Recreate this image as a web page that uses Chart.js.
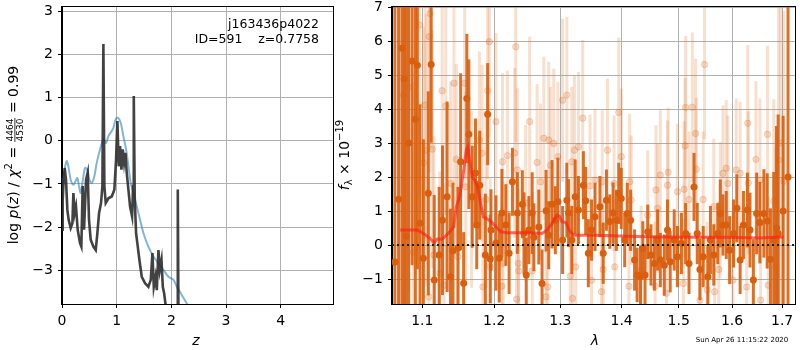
<!DOCTYPE html>
<html>
<head>
<meta charset="utf-8">
<script src="https://cdn.jsdelivr.net/npm/chart.js@4.4.0/dist/chart.umd.min.js"></script>
<style>
html, body { margin: 0; padding: 0; background: #fff; }
#wrap { position: relative; width: 800px; height: 350px; overflow: hidden; }
canvas { position: absolute; top: 0; }
</style>
</head>
<body>
<div id="wrap">
  <canvas id="pz" width="334" height="350" style="left:0px"></canvas>
  <canvas id="spec" width="466" height="350" style="left:334px"></canvas>
</div>
<script>
// ---- left panel: log p(z) ----
var zTicks = [0, 1, 2, 3, 4];
var logpTicks = [-3, -2, -1, 0, 1, 2, 3];

var zBlack = [0, 0.012, 0.024, 0.049, 0.073, 0.098, 0.122, 0.159, 0.19, 0.208,
  0.232, 0.256, 0.287, 0.33, 0.354, 0.378, 0.403, 0.44, 0.47, 0.494,
  0.525, 0.574, 0.617, 0.647, 0.678, 0.714, 0.739, 0.757, 0.775, 0.80,
  0.849, 0.91, 0.958, 0.989, 1.013, 1.038, 1.062, 1.087, 1.111, 1.136,
  1.16, 1.184, 1.215, 1.245, 1.282, 1.30, 1.313, 1.331, 1.355, 1.386,
  1.416, 1.459, 1.52, 1.58, 1.624, 1.654, 1.679, 1.71, 1.734, 1.764,
  1.789, 1.82, 1.844, 1.868, 1.90, 1.95, 2.05, 2.105, 2.118, 2.131,
  2.16, 2.3, 2.6];
var logpBlack = [-2.06, -1.4, -1.05, -0.63, -0.90, -1.60, -1.83, -2.02, -1.91, -1.21,
  -1.67, -1.52, -2.06, -2.37, -2.45, -1.05, -2.06, -0.90, -0.74, -1.83,
  -2.29, -2.45, -2.53, -2.14, -1.67, -1.44, -1.05, 2.24, -1.05, -1.44,
  -1.33, -1.29, -1.13, -0.43, 0.46, -0.59, -0.12, -0.67, -0.20, -0.51,
  -0.28, -0.74, -1.13, -1.52, -1.75, -1.05, 1.04, -1.36, -2.14, -2.45,
  -2.76, -3.15, -3.30, -3.38, -3.22, -2.60, -3.38, -3.15, -3.46, -2.53,
  -2.99, -2.76, -3.38, -3.53, -3.85, -4.2, -4.3, -4.1, -1.13, -4.2,
  -4.5, -5.0, -5.5];

var zBlue = [0, 0.037, 0.085, 0.116, 0.159, 0.208, 0.244, 0.28, 0.311, 0.342,
  0.378, 0.421, 0.464, 0.50, 0.543, 0.592, 0.635, 0.696, 0.757, 0.806,
  0.849, 0.891, 0.94, 0.989, 1.03, 1.074, 1.123, 1.172, 1.215, 1.258,
  1.306, 1.367, 1.428, 1.49, 1.58, 1.673, 1.764, 1.856, 1.948, 2.04,
  2.10, 2.19, 2.283, 2.375, 2.6];
var logpBlue = [-1.2, -0.74, -0.47, -0.59, -0.90, -1.02, -0.94, -0.86, -1.05, -1.21,
  -0.94, -0.63, -0.67, -0.90, -0.98, -0.82, -0.51, -0.20, 0.03, -0.05,
  0.11, 0.19, 0.30, 0.52, 0.53, 0.42, 0.11, -0.20, -0.59, -0.98,
  -1.21, -1.52, -1.83, -2.14, -2.45, -2.68, -2.84, -2.99, -3.15, -3.22,
  -3.38, -3.57, -3.77, -3.96, -4.4];

// ---- right panel: spectrum ----
var lamTicks = [1.1, 1.2, 1.3, 1.4, 1.5, 1.6, 1.7];
var fluxTicks = [-1, 0, 1, 2, 3, 4, 5, 6, 7];

var darkLam = [1.0641, 1.0689, 1.0732, 1.0762, 1.0788, 1.0820, 1.0865, 1.0908, 1.0934, 1.0970,
  1.1014, 1.1080, 1.1119, 1.1160, 1.1227, 1.1272, 1.1335, 1.1381, 1.1416, 1.1485,
  1.1522, 1.1564, 1.1609, 1.1637, 1.1685, 1.1731, 1.1749, 1.1791, 1.1872, 1.1905,
  1.1943, 1.1953, 1.2025, 1.2073, 1.2112, 1.2170, 1.2218, 1.2267, 1.2341, 1.2415,
  1.2440, 1.2474, 1.2514, 1.2564, 1.2589, 1.2665, 1.2715, 1.2777, 1.2818, 1.2869,
  1.2921, 1.2961, 1.3035, 1.3102, 1.3129, 1.3181, 1.3235, 1.3287, 1.3367, 1.3404,
  1.3447, 1.3500, 1.3556, 1.3637, 1.3691, 1.3745, 1.3801, 1.3856, 1.3911, 1.3951,
  1.3994, 1.4052, 1.4095, 1.4153, 1.4221, 1.4265, 1.4323, 1.4363, 1.4402, 1.4449,
  1.4506, 1.4566, 1.4623, 1.4671, 1.4741, 1.4799, 1.4847, 1.4919, 1.4978, 1.5050,
  1.5127, 1.5189, 1.5281, 1.5341, 1.5391, 1.5452, 1.5539, 1.5588, 1.5651, 1.5726,
  1.5775, 1.5826, 1.5889, 1.5954, 1.6031, 1.6094, 1.6158, 1.6223, 1.6301, 1.6352,
  1.6419, 1.6484, 1.6549, 1.6629, 1.6696, 1.6762, 1.6829, 1.6883, 1.6918, 1.7020,
  1.7122];
var darkFlux = [-0.5, 1.35, 5.79, 4.88, 0.26, 3.0, 5.41, 3.70, 5.29, 0.64,
  -0.39, 1.52, 5.31, -1.03, -0.29, 0.73, 1.42, -0.93, -0.17, -0.09,
  2.45, -1.12, 4.31, 3.26, 1.42, 2.12, 0.59, 1.76, -0.29, 3.85,
  -0.41, 0.44, 0.06, -0.39, 0.94, 0.59, -0.24, 1.86, 0.94, 1.20,
  0.35, -0.88, 0.44, 0.94, 0.23, 0.53, -1.13, 1.01, 0.29, 1.20,
  0.73, 1.27, 0.15, 1.32, 0.94, 0.15, 1.42, 1.03, 1.76, 1.30,
  -0.24, 0.44, 0.83, 1.13, -0.24, 1.32, 0.69, 0.94, 0.73, 1.52,
  1.37, 0.15, 0.93, 0.73, -0.44, -0.88, -0.93, -0.10, -0.88, 0.39,
  -0.29, -0.54, 0.15, -0.44, -0.59, 0.44, -0.49, 0.15, -0.34, 0.05,
  0.34, -0.54, 1.71, 0.34, -0.72, -0.34, -0.93, 0.15, -0.29, 0.34,
  0.93, 0.59, 0.59, -0.15, 0.34, 1.08, -0.44, 0.59, 1.03, 0.44,
  -1.03, 0.93, 0.66, 0.93, 0.71, -0.42, 0.15, 0.50, 0.34, 1.00,
  2.00];
var darkErr = [10, 10, 10, 10, 10, 8, 6, 5.5, 6, 3.5,
  3.5, 3, 2.3, 2.5, 2, 2.2, 2.8, 2, 2, 1.8,
  2.6, 1.5, 1.9, 2.2, 1.5, 1.6, 1.3, 1.6, 1.8, 1.5,
  1.3, 1.2, 1.4, 1.3, 1.3, 1.2, 1.2, 1.0, 1.2, 1.0,
  1.2, 1.1, 1.0, 1.2, 1.0, 1.1, 1.0, 1.2, 1.0, 1.3,
  1.0, 1.3, 1.0, 1.1, 1.0, 1.0, 1.1, 1.0, 1.0, 1.0,
  1.0, 0.9, 1.0, 0.9, 0.9, 0.9, 0.8, 0.9, 0.9, 0.9,
  0.9, 0.8, 0.9, 0.9, 0.9, 0.8, 0.9, 0.8, 0.9, 0.8,
  0.9, 0.8, 0.9, 0.8, 0.9, 0.9, 0.9, 0.9, 0.9, 0.9,
  0.9, 0.9, 1.0, 0.9, 0.9, 0.9, 0.9, 1.0, 0.9, 0.9,
  1.0, 0.9, 1.0, 1.0, 1.0, 1.0, 1.0, 1.0, 1.1, 1.1,
  1.2, 1.2, 1.2, 1.3, 1.4, 1.5, 2.0, 3.0, 3.5, 2.8,
  12];

var lightLam = [1.0753, 1.0818, 1.0882, 1.0961, 1.1014, 1.1036, 1.1055, 1.1086, 1.1093, 1.1102,
  1.1133, 1.1156, 1.1236, 1.1267, 1.1294, 1.1317, 1.1385, 1.1430, 1.1463, 1.1485,
  1.1578, 1.1592, 1.1675, 1.1787, 1.1825, 1.1837, 1.1882, 1.1905, 1.1929, 1.1941,
  1.2025, 1.2112, 1.2121, 1.2131, 1.2193, 1.2300, 1.2317, 1.2329, 1.2341, 1.2355,
  1.2362, 1.2465, 1.2525, 1.2564, 1.2639, 1.2691, 1.2742, 1.2777, 1.2803, 1.2818,
  1.2844, 1.2895, 1.2961, 1.3035, 1.3102, 1.3156, 1.3181, 1.3192, 1.3223, 1.3243,
  1.3287, 1.3356, 1.3475, 1.3500, 1.3556, 1.3663, 1.3675, 1.3691, 1.3762, 1.3873,
  1.3884, 1.3951, 1.3994, 1.4124, 1.4136, 1.4163, 1.4334, 1.4449, 1.4579, 1.4593,
  1.4623, 1.4671, 1.4781, 1.4799, 1.4811, 1.4978, 1.5086, 1.5099, 1.5117, 1.5127,
  1.5189, 1.5250, 1.5310, 1.5323, 1.5391, 1.5452, 1.5476, 1.5526, 1.5651, 1.5666,
  1.5745, 1.5775, 1.5826, 1.5889, 1.5921, 1.6018, 1.6081, 1.6158, 1.6287, 1.6307,
  1.6320, 1.6470, 1.6549, 1.6563, 1.6702, 1.6716, 1.6829, 1.6869, 1.6927, 1.6968,
  1.7032];
var lightFlux = [4.41, 4.64, -0.21, 6.47, 2.42, 4.12, 2.79, -1.52, 6.13, 6.81,
  2.82, -0.29, -0.83, 4.54, -1.18, 4.09, 1.81, 4.76, 2.52, -0.34,
  4.76, 1.71, 1.35, 3.09, 2.70, -1.23, 1.34, 4.54, 5.98, -0.64,
  3.63, -1.21, 2.45, -0.54, 2.63, 2.71, 5.83, -1.59, 2.21, -0.54,
  -0.76, 1.23, 3.63, -0.76, 2.43, 1.86, 3.14, -1.52, -1.23, 3.09,
  2.35, 2.99, 2.60, 4.26, 4.41, -0.91, 2.45, -1.57, 2.79, -0.64,
  2.89, 3.73, 1.74, -1.03, 1.91, -1.37, 1.86, -0.72, 2.79, 1.81,
  -0.64, 3.90, 2.60, -1.21, 1.86, 1.32, -0.74, 0.88, -1.21, 1.62,
  1.08, 2.06, -1.42, 1.76, 2.14, 1.57, -1.13, 1.64, 2.92, 4.05,
  1.34, 4.05, 3.28, 2.23, -1.62, 1.34, 5.31, -1.32, 1.13, -1.37,
  -0.72, 1.03, 2.11, 2.26, 1.81, -1.03, 2.21, 2.11, -1.23, 3.58,
  1.83, 2.52, 1.91, -1.62, 3.26, -1.18, 1.29, -0.64, 2.5, 3.0,
  1.88];
var lightErr = [7, 6, 5, 5, 4, 4, 4, 3.5, 4, 4,
  3.5, 3.5, 3, 3.2, 3, 3.2, 3, 3, 2.8, 2.8,
  2.8, 2.8, 2.6, 2.6, 2.6, 2.6, 2.6, 2.6, 2.8, 2.6,
  2.6, 2.4, 2.6, 2.4, 2.5, 2.5, 2.8, 2.4, 2.4, 2.4,
  2.4, 2.3, 2.5, 2.3, 2.3, 2.3, 2.4, 2.2, 2.2, 2.3,
  2.3, 2.2, 2.2, 2.4, 2.3, 2.1, 2.2, 2.1, 2.2, 2.1,
  2.2, 2.3, 2.1, 2.0, 2.1, 2.0, 2.1, 2.0, 2.1, 2.0,
  2.0, 2.2, 2.0, 1.9, 2.0, 1.9, 1.9, 1.9, 1.9, 1.9,
  1.9, 1.9, 1.9, 1.9, 1.9, 2.0, 1.9, 2.0, 2.0, 2.1,
  2.0, 2.2, 2.2, 2.1, 2.0, 2.0, 2.2, 2.0, 2.0, 2.0,
  2.0, 2.0, 2.0, 2.0, 2.0, 2.0, 2.1, 2.1, 2.1, 2.3,
  2.1, 2.3, 2.4, 2.4, 2.6, 2.6, 3, 3.5, 6, 6,
  5];

var lamModel = [1.071, 1.0934, 1.1014, 1.1102, 1.1156, 1.1200, 1.1259, 1.1303, 1.1371, 1.1426,
  1.1463, 1.1508, 1.1545, 1.1578, 1.1601, 1.1623, 1.1647, 1.1685, 1.1717, 1.1763,
  1.1811, 1.1843, 1.1882, 1.1953, 1.2025, 1.2097, 1.2170, 1.2514, 1.2715, 1.2792,
  1.2869, 1.2946, 1.2983, 1.3024, 1.3087, 1.3140, 1.3209, 1.3556, 1.4107, 1.4677,
  1.5281, 1.5902, 1.6549, 1.6815, 1.7032];
var fluxModel = [0.44, 0.44, 0.34, 0.20, 0.07, 0.18, 0.17, 0.24, 0.39, 0.54,
  1.13, 1.42, 1.91, 2.40, 2.79, 2.89, 2.50, 2.01, 1.91, 1.71,
  1.13, 0.83, 0.79, 0.69, 0.54, 0.39, 0.36, 0.36, 0.34, 0.44,
  0.64, 0.88, 0.85, 0.69, 0.66, 0.44, 0.29, 0.29, 0.26, 0.24,
  0.23, 0.23, 0.21, 0.23, 0.24];

Chart.defaults.font.family = 'DejaVu Sans';
Chart.defaults.animation = false;

function pts(xs, ys) {
  return xs.map(function (x, i) { return { x: x, y: ys[i] }; });
}
function minus(s) { return String(s).replace('-', '\u2212'); }

function axis(type, min, max, ticks, size, fmt) {
  var isY = size.w !== undefined;
  return {
    type: type, min: min, max: max,
    afterBuildTicks: function (s) { s.ticks = ticks.map(function (v) { return { value: v }; }); },
    afterFit: function (s) {
      if (isY) s.width = size.w; else s.height = size.h;
      s.paddingTop = 0; s.paddingBottom = 0; s.paddingLeft = 0; s.paddingRight = 0;
    },
    grid: { color: '#b0b0b0', lineWidth: 1, tickColor: '#000', tickLength: 4, tickWidth: 1 },
    border: { color: '#000', width: 1 },
    ticks: {
      color: '#000', font: { size: 14 }, padding: 5,
      autoSkip: false, maxRotation: 0,
      callback: function (v) { return fmt(v); }
    }
  };
}

// error bars drawn through the chart scales, just before their dataset
var errPlugin = {
  id: 'errbars',
  beforeDatasetDraw: function (chart, args) {
    var ds = chart.data.datasets[args.index];
    if (!ds.err) return;
    var ctx = chart.ctx, xs = chart.scales.x, ys = chart.scales.y, a = chart.chartArea;
    ctx.save();
    ctx.beginPath();
    ctx.rect(a.left, a.top, a.right - a.left, a.bottom - a.top);
    ctx.clip();
    ctx.strokeStyle = ds.errColor;
    ctx.lineWidth = ds.errWidth;
    ds.data.forEach(function (p, i) {
      var x = xs.getPixelForValue(p.x);
      ctx.beginPath();
      ctx.moveTo(x, ys.getPixelForValue(p.y - ds.err[i]));
      ctx.lineTo(x, ys.getPixelForValue(p.y + ds.err[i]));
      ctx.stroke();
    });
    ctx.restore();
  }
};

var framePlugin = {
  id: 'frame',
  afterDatasetsDraw: function (chart) {
    var a = chart.chartArea, ctx = chart.ctx;
    ctx.save();
    ctx.strokeStyle = '#000';
    ctx.lineWidth = 1;
    ctx.strokeRect(Math.round(a.left) - 0.5, Math.round(a.top) - 0.5,
      Math.round(a.right - a.left) + 1, Math.round(a.bottom - a.top) + 1);
    ctx.restore();
  }
};

// text made of pieces (italic letters, super/subscripts, a small fraction)
function drawRich(ctx, segs, cx, cy, rotate) {
  ctx.save();
  ctx.translate(cx, cy);
  if (rotate) ctx.rotate(-Math.PI / 2);
  ctx.fillStyle = '#000';
  ctx.textBaseline = 'alphabetic';
  var total = 0;
  var w = segs.map(function (s) {
    ctx.font = s.font;
    var ww = s.frac
      ? Math.max(ctx.measureText(s.frac[0]).width, ctx.measureText(s.frac[1]).width) + 2
      : ctx.measureText(s.t).width;
    total += ww;
    return ww;
  });
  var x = -total / 2;
  segs.forEach(function (s, i) {
    ctx.font = s.font;
    if (s.frac) {
      ctx.textAlign = 'center';
      ctx.fillText(s.frac[0], x + w[i] / 2, s.dy[0]);
      ctx.fillText(s.frac[1], x + w[i] / 2, s.dy[1]);
      ctx.fillRect(x + 0.5, s.bar, w[i] - 1, 0.8);
    } else {
      ctx.textAlign = 'left';
      ctx.fillText(s.t, x, s.dy || 0);
    }
    x += w[i];
  });
  ctx.restore();
}

var N = '14px DejaVu Sans', I = 'italic 14px DejaVu Sans', S = '10px DejaVu Sans';

var leftText = {
  id: 'leftText',
  afterDraw: function (chart) {
    var ctx = chart.ctx;
    drawRich(ctx, [
      { t: 'log ', font: N }, { t: 'p', font: I }, { t: '(', font: N }, { t: 'z', font: I },
      { t: ') / ', font: N }, { t: '\u03c7', font: I }, { t: '2', font: S, dy: -6 },
      { t: ' = ', font: N },
      { frac: ['4464', '4530'], font: '9px DejaVu Sans', dy: [-5, 5], bar: -3.5 },
      { t: ' = 0.99', font: N }
    ], 18, 155, true);
    drawRich(ctx, [{ t: 'z', font: I }], 196, 345, false);
    ctx.save();
    ctx.fillStyle = '#000';
    ctx.font = '12.5px DejaVu Sans';
    ctx.textAlign = 'right';
    ctx.textBaseline = 'alphabetic';
    ctx.fillText('j163436p4022', 319, 28);
    ctx.fillText('ID=591    z=0.7758', 319, 43);
    ctx.restore();
  }
};

var rightText = {
  id: 'rightText',
  afterDraw: function (chart) {
    var ctx = chart.ctx;
    drawRich(ctx, [
      { t: 'f', font: I }, { t: '\u03bb', font: S, dy: 3 },
      { t: ' \u00d7 10', font: N }, { t: '\u221219', font: S, dy: -6 }
    ], 15, 155, true);
    drawRich(ctx, [{ t: '\u03bb', font: I }], 261, 345, false);
    ctx.save();
    ctx.fillStyle = '#000';
    ctx.font = '7px DejaVu Sans';
    ctx.textAlign = 'center';
    ctx.textBaseline = 'middle';
    ctx.fillText('Sun Apr 26 11:15:22 2020', 408, 340);
    ctx.restore();
  }
};

new Chart(document.getElementById('pz'), {
  type: 'scatter',
  data: {
    datasets: [
      {
        data: pts(zBlack, logpBlack), showLine: true, pointRadius: 0,
        borderColor: 'rgba(45,45,45,0.9)', borderWidth: 2.6, tension: 0, order: 1
      },
      {
        data: pts(zBlue, logpBlue), showLine: true, pointRadius: 0,
        borderColor: 'rgba(31,119,180,0.55)', borderWidth: 2, tension: 0.3, order: 2
      }
    ]
  },
  options: {
    responsive: false, devicePixelRatio: 1, events: [],
    layout: { padding: { left: 0, right: 1, top: 7, bottom: 0 } },
    plugins: { legend: { display: false }, tooltip: { enabled: false } },
    scales: {
      x: axis('linear', 0, 4.957, zTicks, { h: 46 }, function (v) { return minus(v); }),
      y: axis('linear', -3.78, 3.1, logpTicks, { w: 62 }, function (v) { return minus(v); })
    }
  },
  plugins: [framePlugin, leftText]
});

new Chart(document.getElementById('spec'), {
  type: 'scatter',
  data: {
    datasets: [
      {
        data: pts(lightLam, lightFlux), err: lightErr,
        errColor: 'rgba(226,120,50,0.24)', errWidth: 3,
        pointRadius: 3.2, backgroundColor: 'rgba(217,95,14,0.2)',
        borderColor: 'rgba(217,95,14,0.22)', borderWidth: 1, order: 4
      },
      {
        data: pts(darkLam, darkFlux), err: darkErr,
        errColor: 'rgba(217,95,14,0.9)', errWidth: 3,
        pointRadius: 3.5, backgroundColor: '#d95f0e', borderWidth: 0, order: 3
      },
      {
        data: pts(lamModel, fluxModel), showLine: true, pointRadius: 0,
        borderColor: 'rgba(255,30,20,0.65)', borderWidth: 3, order: 2
      },
      {
        data: [{ x: 1.0604, y: 0 }, { x: 1.7267, y: 0 }], showLine: true, pointRadius: 0,
        borderColor: '#222', borderWidth: 2, borderDash: [2, 3], order: 1
      }
    ]
  },
  options: {
    responsive: false, devicePixelRatio: 1, events: [],
    layout: { padding: { left: 0, right: 1, top: 7, bottom: 0 } },
    plugins: { legend: { display: false }, tooltip: { enabled: false } },
    scales: {
      x: axis('logarithmic', 1.0604, 1.7267, lamTicks, { h: 46 }, function (v) { return v.toFixed(1); }),
      y: axis('linear', -1.733, 7, fluxTicks, { w: 58 }, function (v) { return minus(v); })
    }
  },
  plugins: [errPlugin, framePlugin, rightText]
});
</script>
</body>
</html>
